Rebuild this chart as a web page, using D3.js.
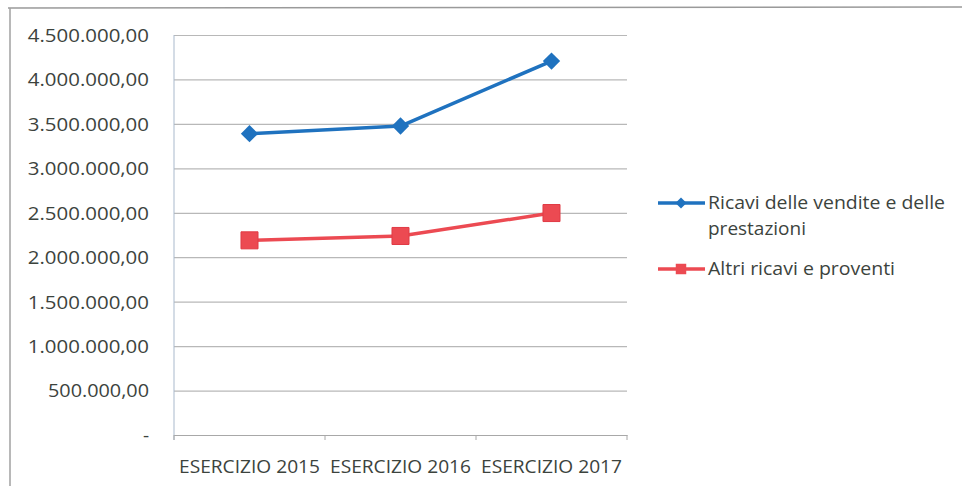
<!DOCTYPE html>
<html>
<head>
<meta charset="utf-8">
<script src="https://cdn.jsdelivr.net/npm/d3@7"></script>
<style>
  body { margin: 0; background: #fff; }
  svg { display: block; }
  text { font-family: "Open Sans", "Noto Sans", sans-serif; fill: #3c433d; }
</style>
</head>
<body>
<svg width="962" height="486"></svg>
<script>
const categories = ['ESERCIZIO 2015', 'ESERCIZIO 2016', 'ESERCIZIO 2017'];
const ricaviVendite = [3390000, 3476000, 4207000];
const altriRicavi = [2190000, 2239000, 2497000];
const yTicks = [0, 500000, 1000000, 1500000, 2000000, 2500000, 3000000, 3500000, 4000000, 4500000];
const seriesNames = ['Ricavi delle vendite e delle prestazioni', 'Altri ricavi e proventi'];

const svg = d3.select('svg');
const plot = { l: 174, r: 627, t: 35, b: 435 };

// frame of the scanned chart (top and left edges)
svg.append('line').attr('x1', 8).attr('x2', 962).attr('y1', 8).attr('y2', 7)
    .attr('stroke', '#9a9a9a').attr('stroke-width', 1.5);
svg.append('line').attr('x1', 10).attr('x2', 10).attr('y1', 8).attr('y2', 486)
    .attr('stroke', '#a0a0a0').attr('stroke-width', 1.5);

const x = d3.scaleBand().domain(categories).range([plot.l, plot.r]);
const y = d3.scaleLinear().domain([0, 4500000]).range([plot.b, plot.t]);

const fmt = v => v === 0 ? '-' : d3.format(',.2f')(v).replace(/,/g, '#').replace('.', ',').replace(/#/g, '.');

// horizontal gridlines
svg.append('g')
    .attr('transform', `translate(${plot.l},0)`)
    .call(d3.axisLeft(y).tickValues(yTicks).tickSize(-(plot.r - plot.l)).tickFormat(''))
    .call(g => g.select('.domain').remove())
    .call(g => g.selectAll('line').attr('stroke', '#b8b8b8').attr('stroke-width', 1.2));

// y labels
svg.append('g').selectAll('text')
    .data(yTicks)
    .join('text')
    .attr('x', 149)
    .attr('y', d => y(d))
    .attr('dy', '0.36em')
    .attr('text-anchor', 'end')
    .attr('font-size', 19)
    .attr('lengthAdjust', 'spacingAndGlyphs')
    .attr('textLength', d => d === 0 ? null : fmt(d).length * 10.1)
    .text(fmt);

// y axis line
svg.append('line').attr('x1', plot.l).attr('x2', plot.l).attr('y1', plot.t).attr('y2', plot.b + 5)
    .attr('stroke', '#a9b9cc').attr('stroke-width', 1);

// x axis
const xAxis = svg.append('g')
    .attr('transform', `translate(0,${plot.b})`)
    .call(d3.axisBottom(x).tickSize(0).tickFormat(''))
    .call(g => g.select('.domain').attr('stroke', '#a8a8a8').attr('stroke-width', 1.2));
xAxis.selectAll('.edge')
    .data([plot.l, ...categories.map(c => x(c) + x.bandwidth())])
    .join('line')
    .attr('x1', d => d).attr('x2', d => d).attr('y1', 0).attr('y2', 5)
    .attr('stroke', '#a8a8a8');

svg.append('g').selectAll('text')
    .data(categories)
    .join('text')
    .attr('x', d => x(d) + x.bandwidth() / 2)
    .attr('y', 473)
    .attr('text-anchor', 'middle')
    .attr('font-size', 18)
    .attr('textLength', 141)
    .attr('lengthAdjust', 'spacingAndGlyphs')
    .text(d => d);

const cx = c => x(c) + x.bandwidth() / 2;
const line = d3.line().x((d, i) => cx(categories[i])).y(d => y(d));

const blue = '#1f72bf', red = '#ec4a52';

svg.append('path').datum(ricaviVendite).attr('d', line)
    .attr('fill', 'none').attr('stroke', blue).attr('stroke-width', 3.5).attr('stroke-linejoin', 'round');
svg.append('path').datum(altriRicavi).attr('d', line)
    .attr('fill', 'none').attr('stroke', red).attr('stroke-width', 3.5).attr('stroke-linejoin', 'round');

const diamond = d3.symbol().type(d3.symbolSquare).size(150);
svg.append('g').selectAll('path')
    .data(ricaviVendite)
    .join('path')
    .attr('d', diamond)
    .attr('transform', (d, i) => `translate(${cx(categories[i])},${y(d)}) rotate(45)`)
    .attr('fill', blue);

const square = d3.symbol().type(d3.symbolSquare).size(290);
svg.append('g').selectAll('path')
    .data(altriRicavi)
    .join('path')
    .attr('d', square)
    .attr('transform', (d, i) => `translate(${cx(categories[i])},${y(d)})`)
    .attr('fill', red).attr('stroke', '#e03a44').attr('stroke-width', 1);

// legend
const leg = svg.append('g');
leg.append('line').attr('x1', 658).attr('x2', 705).attr('y1', 203).attr('y2', 203)
    .attr('stroke', blue).attr('stroke-width', 3.5);
leg.append('path').attr('d', d3.symbol().type(d3.symbolSquare).size(60))
    .attr('transform', 'translate(681,203) rotate(45)').attr('fill', blue);
leg.append('text').attr('x', 708).attr('y', 209).attr('font-size', 18.5)
    .attr('textLength', 237).attr('lengthAdjust', 'spacingAndGlyphs')
    .text('Ricavi delle vendite e delle');
leg.append('text').attr('x', 708).attr('y', 235).attr('font-size', 18.5)
    .attr('textLength', 98).attr('lengthAdjust', 'spacingAndGlyphs')
    .text('prestazioni');

leg.append('line').attr('x1', 658).attr('x2', 705).attr('y1', 269).attr('y2', 269)
    .attr('stroke', red).attr('stroke-width', 3.5);
leg.append('path').attr('d', d3.symbol().type(d3.symbolSquare).size(110))
    .attr('transform', 'translate(681,269)').attr('fill', red);
leg.append('text').attr('x', 708).attr('y', 275).attr('font-size', 18.5)
    .attr('textLength', 187).attr('lengthAdjust', 'spacingAndGlyphs')
    .text(seriesNames[1]);
</script>
</body>
</html>
